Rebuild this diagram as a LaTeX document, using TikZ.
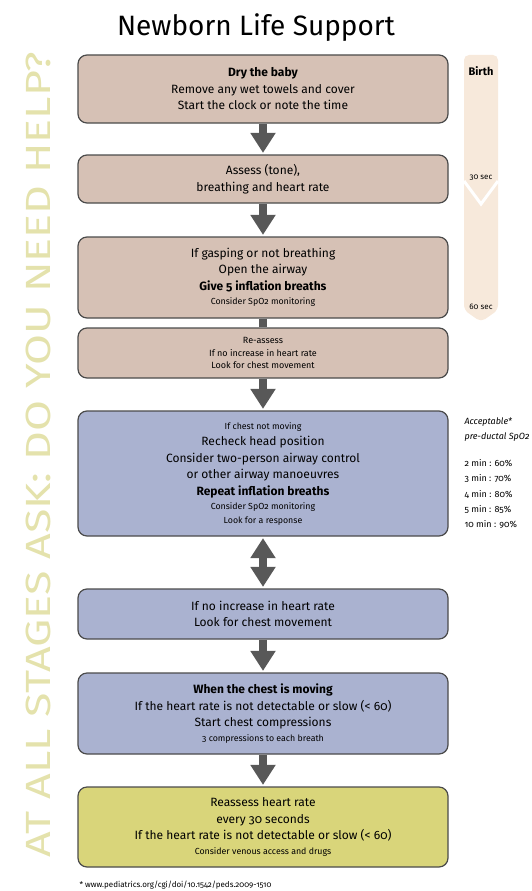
\documentclass[tikz,border=0pt]{standalone}
\usepackage{fontspec}
\setmainfont{Fira Sans}[Numbers=OldStyle]
\usetikzlibrary{arrows.meta}

\definecolor{warm}{RGB}{214,193,181}
\definecolor{cool}{RGB}{170,178,208}
\definecolor{nlsyellow}{RGB}{217,213,122}
\definecolor{edge}{RGB}{75,75,75}
\definecolor{pointer}{RGB}{88,88,88}
\definecolor{helptext}{RGB}{228,226,172}
\definecolor{timeline}{RGB}{247,233,219}

\newcommand{\bigtxt}{\fontsize{12}{16.5}\selectfont}
\newcommand{\smalltxt}{\fontsize{8.8}{12}\selectfont}

\tikzset{
  stage/.style={rectangle,rounded corners=9pt,draw=edge,line width=1.2pt,
    minimum width=370pt,align=center,font=\bigtxt,inner sep=0pt},
  bigarrow/.style={draw=pointer,line width=8pt,shorten >=1.5pt,
    -{Triangle[width=24pt,length=20pt]}},
  stem/.style={draw=pointer,line width=8pt},
}

\begin{document}
\begin{tikzpicture}[x=1pt,y=-1pt]
\useasboundingbox (0,0) rectangle (532,891);

% title and side text
\node[font=\fontsize{28}{30}\selectfont] (title) at (256,28) {Newborn Life Support};
\node[rotate=90,xscale=1.28,text=helptext,font=\fontsize{35}{35}\selectfont] (askhelp) at (38,455) {AT ALL STAGES ASK: DO YOU NEED HELP?};

% time line
\fill[timeline,rounded corners=5pt] (481,322) -- (464,310) -- (464,55) -- (498,55) -- (498,310) -- cycle;
\draw[white,line width=3pt] (464,181) -- (481,204) -- (498,181);
\node[font=\bfseries\fontsize{11}{12}\selectfont] (birth) at (481,71) {Birth};
\node[font=\fontsize{8}{9}\selectfont] (sec30) at (481,178) {30 sec};
\node[font=\fontsize{8}{9}\selectfont] (sec60) at (481,307) {60 sec};

% the steps
\node[stage,fill=warm,minimum height=68pt] (dry) at (263,89)
  {\textbf{Dry the baby}\\Remove any wet towels and cover\\Start the clock or note the time};
\node[stage,fill=warm,minimum height=48pt] (assess) at (263,179)
  {Assess (tone),\\breathing and heart rate};
\node[stage,fill=warm,minimum height=81pt] (gasp) at (263,277.5)
  {If gasping or not breathing\\Open the airway\\\textbf{Give 5 inflation breaths}\\[-2pt]{\smalltxt Consider SpO2 monitoring}};
\node[stage,fill=warm,minimum height=50pt,font=\fontsize{9}{12.5}\selectfont] (reassess) at (263,353)
  {Re-assess\\If no increase in heart rate\\Look for chest movement};
\node[stage,fill=cool,minimum height=125pt] (recheck) at (263,473.5)
  {{\smalltxt If chest not moving}\\Recheck head position\\Consider two-person airway control\\or other airway manoeuvres\\\textbf{Repeat inflation breaths}\\[-2pt]{\smalltxt Consider SpO2 monitoring}\\[-3pt]{\smalltxt Look for a response}};
\node[stage,fill=cool,minimum height=50pt] (noinc) at (263,614)
  {If no increase in heart rate\\Look for chest movement};
\node[stage,fill=cool,minimum height=81pt] (moving) at (263,713.5)
  {\textbf{When the chest is moving}\\If the heart rate is not detectable or slow (< 60)\\Start chest compressions\\[-2pt]{\smalltxt 3 compressions to each breath}};
\node[stage,fill=nlsyellow,minimum height=80pt] (drugs) at (263,827)
  {Reassess heart rate\\every 30 seconds\\If the heart rate is not detectable or slow (< 60)\\[-2pt]{\smalltxt Consider venous access and drugs}};

% arrows
\draw[bigarrow] (dry) -- (assess);
\draw[bigarrow] (assess) -- (gasp);
\draw[stem] (gasp) -- (reassess);
\draw[bigarrow] (reassess) -- (recheck);
\draw[draw=pointer,line width=8pt,shorten >=1.5pt,shorten <=1.5pt,
  {Triangle[width=24pt,length=20pt]}-{Triangle[width=24pt,length=20pt]}] (recheck) -- (noinc);
\draw[bigarrow] (noinc) -- (moving);
\draw[bigarrow] (moving) -- (drugs);

% oxygen targets
\node[anchor=north west,align=left,font=\itshape\fontsize{9}{15}\selectfont] (spohead) at (461,414)
  {Acceptable*\\pre-ductal SpO2};
\node[anchor=north west,align=left,font=\fontsize{9}{15.3}\selectfont] (spotable) at (461,456)
  {2 min : 60\%\\3 min : 70\%\\4 min : 80\%\\5 min : 85\%\\10 min : 90\%};

% source
\node[anchor=west,font=\fontsize{8}{9}\selectfont] (source) at (76,885)
  {* www.pediatrics.org/cgi/doi/10.1542/peds.2009-1510};
\end{tikzpicture}
\end{document}
